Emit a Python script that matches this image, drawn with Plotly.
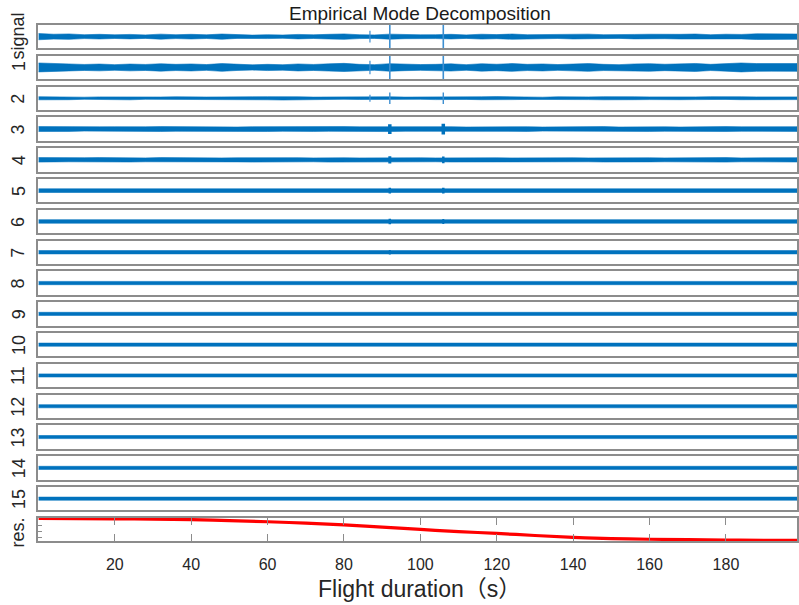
import plotly.graph_objects as go

# ---------------- data ----------------
ROW_LABELS = ["signal"] + [str(k) for k in range(1, 16)] + ["res."]
X_MAX = 198.6
X_GRID = list(range(0, 200, 4)) + [198.6]          # 51 sample positions

# half-thickness of the oscillation band (arbitrary units, axis range is +/-12)
ENV_SIGNAL = [3.2, 2.5, 2.8, 2.0, 2.4, 1.9, 2.3, 1.8, 2.6, 2.0, 2.4, 1.9, 2.7, 1.8, 1.6, 2.0, 1.7,
              2.3, 1.9, 2.4, 2.8, 2.0, 1.8, 2.6, 2.1, 1.9, 2.0, 2.4, 1.8, 2.5, 2.1, 2.7, 2.0, 2.3,
              1.9, 2.4, 2.6, 2.0, 1.8, 2.3, 2.5, 2.1, 2.4, 2.7, 2.0, 2.5, 2.3, 2.9, 2.6, 2.8, 2.7]
ENV_IMF1 = [4.6, 4.0, 3.6, 3.1, 3.5, 2.9, 3.5, 3.1, 3.8, 3.2, 3.6, 3.0, 4.0, 3.1, 2.7, 3.2, 2.8,
            3.6, 3.1, 3.7, 4.2, 3.2, 2.9, 3.9, 3.3, 3.0, 3.2, 3.7, 2.9, 3.8, 3.3, 4.0, 3.2, 3.6,
            3.0, 3.7, 4.0, 3.2, 2.9, 3.6, 3.9, 3.3, 3.7, 4.1, 3.2, 3.8, 4.6, 4.0, 3.8, 4.2, 4.0]
ENV_IMF2 = [1.6, 1.2, 1.5, 1.1, 1.4, 1.2, 1.6, 1.1, 1.3, 1.5, 1.1, 1.3, 1.4, 1.1, 1.5, 1.6, 1.8,
            1.5, 1.2, 1.4, 1.1, 1.3, 1.7, 1.5, 1.2, 1.1, 1.4, 1.6, 1.2, 1.5, 1.7, 1.4, 1.2, 1.1,
            1.5, 1.2, 1.4, 1.6, 1.2, 1.5, 1.4, 1.2, 1.5, 1.4, 1.6, 1.2, 1.5, 1.4, 1.2, 1.5, 1.4]
ENV_IMF3 = [2.5, 2.3, 2.4, 2.1, 2.3, 2.4, 2.1, 2.3, 2.5, 2.3, 2.1, 2.4, 2.3, 2.1, 2.4, 2.5, 2.3,
            2.1, 2.4, 2.3, 2.5, 2.3, 2.4, 2.6, 2.3, 2.1, 2.3, 2.4, 2.1, 2.3, 2.5, 2.3, 2.4, 2.1,
            2.3, 2.4, 2.3, 2.5, 2.1, 2.3, 2.4, 2.3, 2.1, 2.4, 2.3, 2.5, 2.3, 2.4, 2.1, 2.3, 2.4]
ENV_IMF4 = [2.3, 2.1, 2.0, 2.2, 2.3, 2.0, 2.2, 2.0, 2.3, 2.1, 2.0, 2.2, 2.0, 2.1, 2.3, 2.1, 2.0,
            2.2, 2.0, 2.3, 2.1, 2.0, 2.2, 2.3, 2.0, 2.1, 2.0, 2.2, 2.3, 2.0, 2.1, 2.0, 2.2, 2.3,
            2.0, 2.1, 2.0, 2.2, 2.0, 2.3, 2.1, 2.0, 2.2, 2.0, 2.1, 2.3, 2.0, 2.2, 2.0, 2.1, 2.2]
# rows 5..15: practically constant-width lines
LEVEL_IMF5_15 = [1.9, 1.8, 1.7, 1.7, 1.6, 1.6, 1.6, 1.6, 1.6, 1.6, 1.6]

# transient spikes: row index -> list of (time, half height, width)
SPIKES = {
    0: [(86.8, 6.0, 1.2), (92.0, 12.0, 1.6), (106.0, 12.0, 1.6)],
    1: [(86.8, 7.0, 1.2), (92.0, 12.0, 1.6), (106.0, 12.0, 1.6)],
    2: [(86.8, 3.5, 1.2), (92.0, 6.0, 1.4), (106.0, 6.0, 1.4)],
    3: [(92.0, 5.0, 3.5), (106.0, 5.5, 3.5)],
    4: [(92.0, 3.8, 3.0), (106.0, 3.5, 2.5)],
    5: [(92.0, 3.0, 2.5), (106.0, 3.0, 2.5)],
    6: [(92.0, 2.8, 2.5), (106.0, 2.6, 2.0)],
    7: [(92.0, 2.4, 2.0)],
}

RES_X = [0, 10, 20, 30, 40, 50, 60, 70, 80, 90, 100, 110, 120, 130, 140, 150, 160, 170, 180, 190, 198.6]
RES_Y = [0.97, 0.965, 0.955, 0.94, 0.92, 0.88, 0.83, 0.77, 0.70, 0.60, 0.50, 0.41, 0.33, 0.24,
         0.16, 0.11, 0.08, 0.06, 0.045, 0.035, 0.03]

X_TICKS = [20, 40, 60, 80, 100, 120, 140, 160, 180]
RES_YTICKS = [0.15, 0.42, 0.69]

# ---------------- layout geometry (pixels) ----------------
W, H = 799, 605
LEFT_PX = 38.5
TOP0, PITCH, ROW_H = 25.0, 30.8, 23.3
BLUE = "#0072BD"
FRAME = "#8c8c8c"
TXT = "#262626"
FONT = "Liberation Sans, Arial, Noto Sans CJK SC"

fig = go.Figure()
n_rows = len(ROW_LABELS)
layout_axes = {}

def py(px):
    return 1 - px / H

for i in range(n_rows):
    n = i + 1
    sx = "" if n == 1 else str(n)
    top = TOP0 + i * PITCH
    bot = top + ROW_H
    is_res = (i == n_rows - 1)
    xa = dict(domain=[LEFT_PX / W, 1.0], range=[0, X_MAX], anchor="y" + sx,
              showline=True, mirror=True, linecolor=FRAME, linewidth=1.5,
              showgrid=False, zeroline=False, fixedrange=True)
    ya = dict(domain=[py(bot), py(top)], anchor="x" + sx, showline=True, mirror=True,
              linecolor=FRAME, linewidth=1.5, showgrid=False, zeroline=False,
              showticklabels=False, ticks="")
    if is_res:
        xa.update(tickvals=X_TICKS, ticktext=[str(v) for v in X_TICKS], ticks="inside",
                  ticklen=7, tickwidth=1.2, tickcolor=FRAME, mirror="ticks",
                  tickfont=dict(size=16, color=TXT, family=FONT), ticklabelstandoff=8)
        ya.update(range=[0, 1], tickvals=RES_YTICKS, ticks="inside", ticklen=4,
                  tickwidth=1.2, tickcolor=FRAME)
    else:
        xa.update(showticklabels=False, ticks="")
        ya.update(range=[-12, 12])
    layout_axes["xaxis" + sx] = xa
    layout_axes["yaxis" + sx] = ya

    xref, yref = "x" + sx, "y" + sx
    if is_res:
        fig.add_trace(go.Scatter(x=RES_X, y=RES_Y, mode="lines", line=dict(color="#ff0000", width=3.2, shape="spline"),
                                 xaxis=xref, yaxis=yref, showlegend=False, hoverinfo="skip"))
        continue

    envs = {0: ENV_SIGNAL, 1: ENV_IMF1, 2: ENV_IMF2, 3: ENV_IMF3, 4: ENV_IMF4}
    if i in envs:
        env = envs[i]
        px_ = X_GRID + X_GRID[::-1]
        py_ = env + [-v for v in env[::-1]]
    else:
        a = LEVEL_IMF5_15[i - 5]
        px_ = [0, X_MAX, X_MAX, 0]
        py_ = [a, a, -a, -a]
    fig.add_trace(go.Scatter(x=px_, y=py_, fill="toself", fillcolor=BLUE, mode="lines",
                             line=dict(color=BLUE, width=0.6), xaxis=xref, yaxis=yref,
                             showlegend=False, hoverinfo="skip"))
    for (t, h, w) in SPIKES.get(i, []):
        fig.add_trace(go.Scatter(x=[t, t], y=[-h, h], mode="lines",
                                 line=dict(color="#3d8fd1" if w < 2 else BLUE, width=w),
                                 xaxis=xref, yaxis=yref, showlegend=False, hoverinfo="skip"))

# ---------------- labels ----------------
ann = []
label_pos = {0: 36.0, 1: 65.5, n_rows - 1: 532.0}
for i, lab in enumerate(ROW_LABELS):
    cy = label_pos.get(i, TOP0 + i * PITCH + ROW_H / 2)
    ann.append(dict(text=lab, x=18.5 / W, y=py(cy), xref="paper", yref="paper",
                    textangle=-90, showarrow=False, xanchor="center", yanchor="middle",
                    font=dict(size=18, color=TXT, family=FONT)))
ann.append(dict(text="Empirical Mode Decomposition", x=421 / W, y=py(13), xref="paper", yref="paper",
                showarrow=False, xanchor="center", yanchor="middle",
                font=dict(size=19, color="#1a1a1a", family=FONT)))
ann.append(dict(text="Flight duration（s）", x=421 / W, y=py(589), xref="paper", yref="paper",
                showarrow=False, xanchor="center", yanchor="middle",
                font=dict(size=23, color=TXT, family=FONT)))

fig.update_layout(width=W, height=H, margin=dict(l=0, r=0, t=0, b=0),
                  paper_bgcolor="white", plot_bgcolor="white", annotations=ann,
                  **layout_axes)

fig.write_html("out.html")
